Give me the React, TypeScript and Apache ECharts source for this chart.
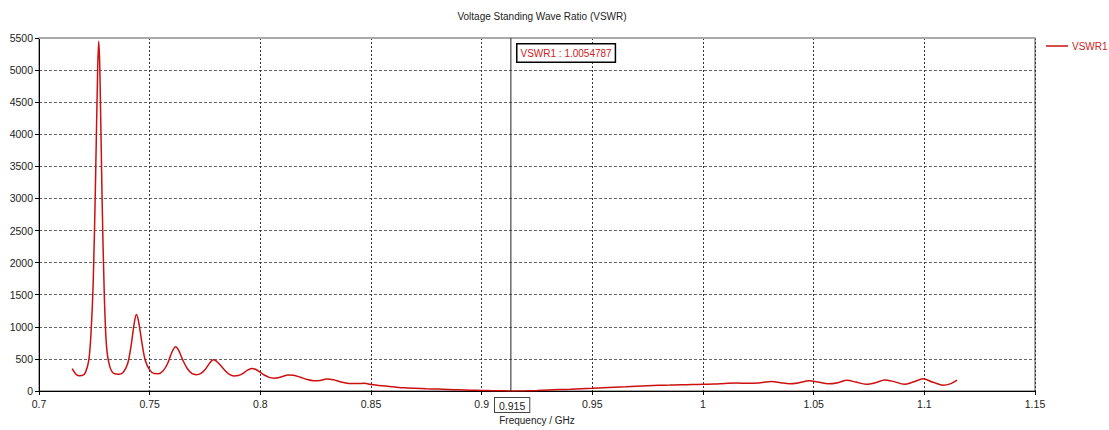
import React, { useEffect, useRef } from "react";
import * as echarts from "echarts";

const freqs: number[] = [
  0.715, 0.7165, 0.718, 0.7195, 0.721, 0.7225, 0.7235, 0.7245, 0.7255, 0.7265, 0.727, 0.7275, 0.7285, 0.7295, 0.7305,
  0.732, 0.734, 0.736, 0.738, 0.74, 0.7415, 0.743, 0.744, 0.745, 0.7465, 0.748, 0.75, 0.752, 0.754, 0.756,
  0.758, 0.76, 0.7617, 0.763, 0.765, 0.767, 0.769, 0.771, 0.773, 0.775, 0.777, 0.7787, 0.78, 0.782, 0.784,
  0.786, 0.788, 0.79, 0.792, 0.794, 0.796, 0.798, 0.8, 0.802, 0.804, 0.806, 0.808, 0.81, 0.8125, 0.815,
  0.818, 0.821, 0.824, 0.827, 0.83, 0.833, 0.836, 0.84, 0.844, 0.847, 0.85, 0.855, 0.86, 0.865, 0.87,
  0.875, 0.88, 0.885, 0.89, 0.895, 0.9, 0.905, 0.91, 0.915, 0.92, 0.925, 0.93, 0.935, 0.94, 0.945,
  0.95, 0.955, 0.96, 0.965, 0.97, 0.975, 0.98, 0.985, 0.99, 0.995, 1.0, 1.005, 1.01, 1.015, 1.02,
  1.025, 1.031, 1.035, 1.039, 1.043, 1.048, 1.052, 1.0565, 1.061, 1.065, 1.069, 1.0737, 1.078, 1.082, 1.086,
  1.091, 1.095, 1.0994, 1.104, 1.1085, 1.112, 1.1148,
];

const vswr: number[] = [
  350, 270, 238, 240, 290, 480, 900, 1700, 3200, 5000, 5450, 5000, 3000, 1500, 700,
  380, 270, 262, 290, 420, 680, 1050, 1190, 1080, 750, 480, 330, 272, 270, 310,
  420, 600, 690, 640, 480, 350, 275, 255, 270, 330, 430, 488, 470, 400, 320,
  260, 235, 240, 270, 320, 350, 335, 290, 245, 212, 200, 205, 225, 248, 245,
  215, 180, 160, 165, 188, 175, 145, 118, 115, 120, 100, 80, 65, 50, 42,
  35, 30, 24, 18, 12, 8, 4, 2, 1, 3, 8, 15, 22, 28, 35,
  42, 50, 58, 66, 75, 82, 88, 92, 98, 100, 106, 108, 118, 125, 120,
  125, 147, 130, 112, 125, 158, 140, 112, 130, 168, 140, 105, 130, 173, 150,
  105, 140, 189, 135, 90, 115, 168,
];

const seriesName = "VSWR1";
const markerLabel = "0.915";
const markerLinePos = 0.9132; // where the marker line sits in the reference picture
const markerLineSpan: number[] = [0, 5500];
const markerValue = "1.0054787";
const titleText = "Voltage Standing Wave Ratio (VSWR)";
const xAxisName = "Frequency / GHz";

const FONT = "'Liberation Sans', Arial, sans-serif";

export default function App() {
  const ref = useRef<HTMLDivElement>(null);
  useEffect(() => {
    if (!ref.current) return;
    const chart = echarts.init(ref.current, undefined, { renderer: "svg" });
    const data = freqs.map((f, i) => [f, vswr[i]]);
    const markerData = markerLineSpan.map((v) => [markerLinePos, v]);
    chart.setOption({
      animation: false,
      backgroundColor: "#fff",
      textStyle: { fontFamily: FONT },
      title: {
        text: titleText,
        left: 537,
        textAlign: "center",
        top: 6,
        textStyle: { fontSize: 10, fontWeight: "normal", color: "#222", fontFamily: FONT },
      },
      legend: {
        left: 1046,
        top: 41,
        padding: 0,
        icon: "rect",
        itemWidth: 22,
        itemHeight: 1.5,
        itemGap: 4,
        textStyle: { fontSize: 10, color: "#cc2222", fontFamily: FONT, padding: [0, 0, 0, -1] },
        data: [seriesName],
      },
      grid: {
        left: 39,
        right: 74,
        top: 38,
        bottom: 37.5,
        show: true,
        borderColor: "#555",
        borderWidth: 1,
      },
      xAxis: [
        {
          type: "value",
          min: 0.7,
          max: 1.15,
          interval: 0.05,
          name: xAxisName,
          nameLocation: "middle",
          nameGap: 24,
          nameTextStyle: { fontSize: 10, color: "#222", fontFamily: FONT },
          axisLine: { show: true, lineStyle: { color: "#000", width: 1 } },
          axisTick: { show: true, length: 4, lineStyle: { color: "#000" } },
          axisLabel: {
            fontSize: 10.5,
            color: "#222",
            margin: 7,
            fontFamily: FONT,
            formatter: (v: number) => String(parseFloat(v.toFixed(3))),
          },
          splitLine: { show: true, lineStyle: { color: "#333", type: [2, 2], width: 1 } },
        },
        {
          type: "value",
          position: "top",
          min: 0.7,
          max: 1.15,
          interval: 0.05,
          axisLine: { show: true, lineStyle: { color: "#aaa", width: 2 } },
          axisTick: { show: false },
          axisLabel: { show: false },
          splitLine: { show: false },
        },
      ],
      yAxis: {
        type: "value",
        min: 0,
        max: 5500,
        interval: 500,
        axisLine: { show: true, lineStyle: { color: "#000", width: 1 } },
        axisTick: { show: true, length: 4, lineStyle: { color: "#000" } },
        axisLabel: {
          fontSize: 10.5,
          color: "#222",
          margin: 6,
          fontFamily: FONT,
          formatter: (v: number) => String(v),
        },
        splitLine: { show: true, lineStyle: { color: "#666", type: [3, 2], width: 1 } },
      },
      series: [
        {
          name: "marker",
          type: "line",
          data: markerData,
          symbol: "none",
          silent: true,
          z: 3,
          lineStyle: { color: "#222", width: 1, type: "solid" },
        },
        {
          name: seriesName,
          type: "line",
          data,
          smooth: 0.3,
          symbol: "none",
          showSymbol: false,
          z: 2,
          lineStyle: { color: "#cc1010", width: 1.5 },
          itemStyle: { color: "#cc1010" },
        },
      ],
      graphic: [
        {
          type: "text",
          left: 516,
          top: 43,
          z: 100,
          style: {
            text: `${seriesName} : ${markerValue}`,
            fill: "#cc2222",
            fontSize: 10,
            fontFamily: FONT,
            backgroundColor: "#fff",
            borderColor: "#000",
            borderWidth: 1.5,
            padding: [4, 3, 3, 3],
          },
        },
        {
          type: "text",
          left: 494,
          top: 397,
          z: 100,
          style: {
            text: markerLabel,
            fill: "#222",
            fontSize: 10.5,
            fontFamily: FONT,
            backgroundColor: "#fff",
            borderColor: "#444",
            borderWidth: 1,
            padding: [2, 4, 1, 4],
          },
        },
      ],
    });
    return () => chart.dispose();
  }, []);
  return (
    <div
      ref={ref}
      style={{ position: "absolute", left: 0, top: 0, width: 1109, height: 430 }}
    />
  );
}
